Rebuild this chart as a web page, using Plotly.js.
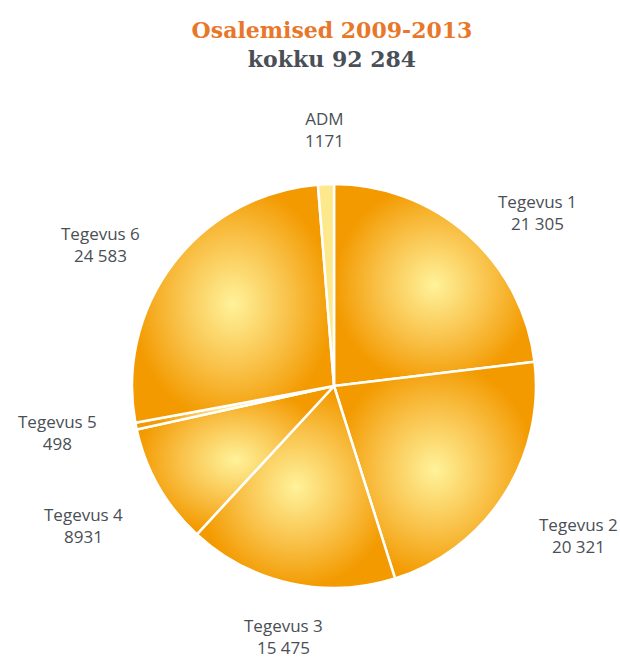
<!DOCTYPE html>
<html>
<head>
<meta charset="utf-8">
<script src="https://cdn.plot.ly/plotly-3.0.1.min.js"></script>
<style>html,body{margin:0;padding:0;background:#fff;}#chart{width:620px;height:663px;}</style>
</head>
<body>
<div id="chart"></div>
<script>
const categories = ["Tegevus 1", "Tegevus 2", "Tegevus 3", "Tegevus 4", "Tegevus 5", "Tegevus 6", "ADM"];
const values = [21305, 20321, 15475, 8931, 498, 24583, 1171];
const valueLabels = ["21 305", "20 321", "15 475", "8931", "498", "24 583", "1171"];
const titleLine1 = "Osalemised 2009-2013";
const titleLine2 = "kokku 92 284";

const W = 620, H = 663;
const M = {l: 132, r: 84, t: 184, b: 75};
const plotW = W - M.l - M.r, plotH = H - M.t - M.b;
const R = Math.min(plotW, plotH) / 2;
const labelGap = 30, labelPad = 8;

const sliceColors = categories.map(c => c === "ADM" ? "#FEE88C" : "#F6A823");

// label annotations computed from the data angles
const total = values.reduce((a, b) => a + b, 0);
let cum = 0;
const annotations = [];
values.forEach((v, i) => {
  const mid = (cum + v / 2) / total * 2 * Math.PI;
  cum += v;
  const s = Math.sin(mid), c = Math.cos(mid);
  const px = 0.5 + (R + labelGap) * s / plotW;
  const py = 0.5 + (R + labelGap) * c / plotH;
  let xanchor = "center", yanchor = "middle", xshift = 0;
  if (Math.abs(s) < 0.5) {
    yanchor = c > 0 ? "bottom" : "top";
  } else {
    xanchor = s > 0 ? "left" : "right";
    xshift = s > 0 ? labelPad : -labelPad;
    if (c < -0.35) yanchor = "top";
  }
  annotations.push({
    xref: "paper", yref: "paper", x: px, y: py,
    xanchor: xanchor, yanchor: yanchor, xshift: xshift,
    text: categories[i] + "<br>" + valueLabels[i],
    showarrow: false, align: "center",
    font: {family: "Open Sans, sans-serif", size: 17, color: "#4A4F55"}
  });
});

const data = [{
  type: "pie",
  labels: categories,
  values: values,
  sort: false,
  direction: "clockwise",
  rotation: 0,
  textinfo: "none",
  hoverinfo: "label+value",
  marker: {colors: sliceColors, line: {color: "#FFFFFF", width: 2.5}},
  showlegend: false
}];

const layout = {
  width: W, height: H,
  margin: M,
  paper_bgcolor: "#FFFFFF",
  plot_bgcolor: "#FFFFFF",
  showlegend: false,
  title: {
    text: '<span style="color:#E8772A">' + titleLine1 + '</span><br><span style="color:#4A4F57">' + titleLine2 + '</span>',
    x: (332 - M.l) / plotW, xanchor: "center", xref: "paper",
    y: 1 - 38 / H, yanchor: "middle", yref: "container",
    font: {family: "DejaVu Serif, Georgia, serif", size: 22, weight: 700, color: "#4A4F57"}
  },
  annotations: annotations
};

Plotly.newPlot("chart", data, layout, {displayModeBar: false, staticPlot: true}).then(() => {
  const svg = document.querySelector("#chart .main-svg");
  let defs = svg.querySelector("defs");
  const NS = "http://www.w3.org/2000/svg";
  if (!defs) { defs = document.createElementNS(NS, "defs"); svg.insertBefore(defs, svg.firstChild); }
  const g = document.createElementNS(NS, "radialGradient");
  g.setAttribute("id", "sliceGrad");
  g.setAttribute("cx", "0.5"); g.setAttribute("cy", "0.5"); g.setAttribute("r", "0.5");
  [["0", "#FFF29A"], ["0.55", "#F9C24A"], ["1", "#F39A00"]].forEach(([o, col]) => {
    const st = document.createElementNS(NS, "stop");
    st.setAttribute("offset", o); st.setAttribute("stop-color", col);
    g.appendChild(st);
  });
  defs.appendChild(g);
  const paths = document.querySelectorAll("#chart .slice path.surface");
  paths.forEach((p, i) => {
    if (categories[i] !== "ADM") p.style.fill = "url(#sliceGrad)";
  });
});
</script>
</body>
</html>
